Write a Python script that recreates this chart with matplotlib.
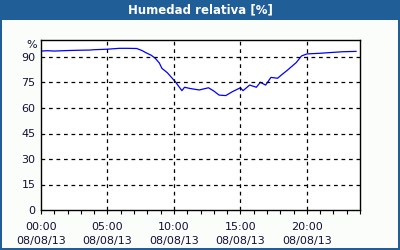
import matplotlib
matplotlib.use("Agg")
import matplotlib.pyplot as plt
from matplotlib.patches import Rectangle

title = "Humedad relativa [%]"
hours = [0.0, 0.5, 1.0, 2.0, 3.0, 3.7, 4.0, 4.4, 5.0, 5.9, 6.5, 7.2, 7.6, 7.9, 8.3, 8.6,
         8.9, 9.1, 9.5, 10.1, 10.6, 10.8, 11.2, 11.9, 12.6, 13.0, 13.4, 13.9, 14.4,
         15.0, 15.2, 15.7, 16.2, 16.5, 16.9, 17.3, 17.8, 18.1, 18.5, 19.2, 19.6, 20.0,
         21.0, 22.7, 23.7]
humidity = [93.5, 93.7, 93.5, 93.8, 94.0, 94.1, 94.3, 94.4, 94.6, 95.1, 95.1, 95.0, 93.8, 92.5, 91.0, 89.2,
            86.5, 83.3, 80.8, 75.5, 70.2, 72.2, 71.5, 70.6, 71.9, 70.0, 67.6, 67.3, 69.6,
            71.9, 70.2, 73.5, 72.2, 75.1, 73.5, 78.0, 77.5, 79.5, 82.0, 86.7, 90.6, 91.8,
            92.2, 93.1, 93.3]
xticks = [0, 5, 10, 15, 20]
xticklabels = ["00:00\n08/08/13", "05:00\n08/08/13", "10:00\n08/08/13",
               "15:00\n08/08/13", "20:00\n08/08/13"]
yticks = [0, 15, 30, 45, 60, 75, 90]

blue = "#1f5e96"
fig = plt.figure(figsize=(4, 2.5), dpi=100, facecolor="#fbfdfb")
# title bar and frame
fig.patches.append(Rectangle((0, 1 - 20 / 250), 1, 20 / 250, transform=fig.transFigure,
                             facecolor=blue, edgecolor="none", zorder=0))
fig.patches.append(Rectangle((0, 0), 2 / 400, 1, transform=fig.transFigure,
                             facecolor=blue, edgecolor="none", zorder=0))
fig.patches.append(Rectangle((1 - 2 / 400, 0), 2 / 400, 1, transform=fig.transFigure,
                             facecolor=blue, edgecolor="none", zorder=0))
fig.patches.append(Rectangle((0, 0), 1, 2 / 250, transform=fig.transFigure,
                             facecolor=blue, edgecolor="none", zorder=0))
fig.text(0.5, 1 - 10 / 250, title, color="white", fontsize=8.5, fontweight="bold",
         ha="center", va="center", family="DejaVu Sans")

ax = fig.add_axes([41 / 400, 1 - 210 / 250, 319 / 400, 170 / 250])
ax.set_facecolor("white")
ax.plot(hours, humidity, color="#0000ff", lw=0.9)
ax.set_xlim(0, 24)
ax.set_ylim(0, 100)
ax.set_xticks(xticks)
ax.set_xticklabels(xticklabels, fontsize=8, color="#10103a", linespacing=1.4)
ax.set_xticks(range(0, 25), minor=True)
ax.set_yticks(yticks)
ax.set_yticklabels([str(v) for v in yticks], fontsize=8, color="#10103a")
ax.tick_params(axis="x", which="both", direction="out", length=3, width=0.8, pad=6)
ax.tick_params(axis="y", length=0, pad=4)
for s in ax.spines.values():
    s.set_color("black")
    s.set_linewidth(1.0)
for x in xticks[1:]:
    ax.axvline(x, color="black", lw=0.9, ls=(0, (3, 3)))
for y in yticks[1:]:
    ax.axhline(y, color="black", lw=0.9, ls=(0, (3, 3)))
ax.text(-0.012, 97, "%", transform=ax.get_yaxis_transform(), ha="right", va="center",
        fontsize=8, color="#10103a")

fig.savefig("out.png", dpi=100, facecolor=fig.get_facecolor())
